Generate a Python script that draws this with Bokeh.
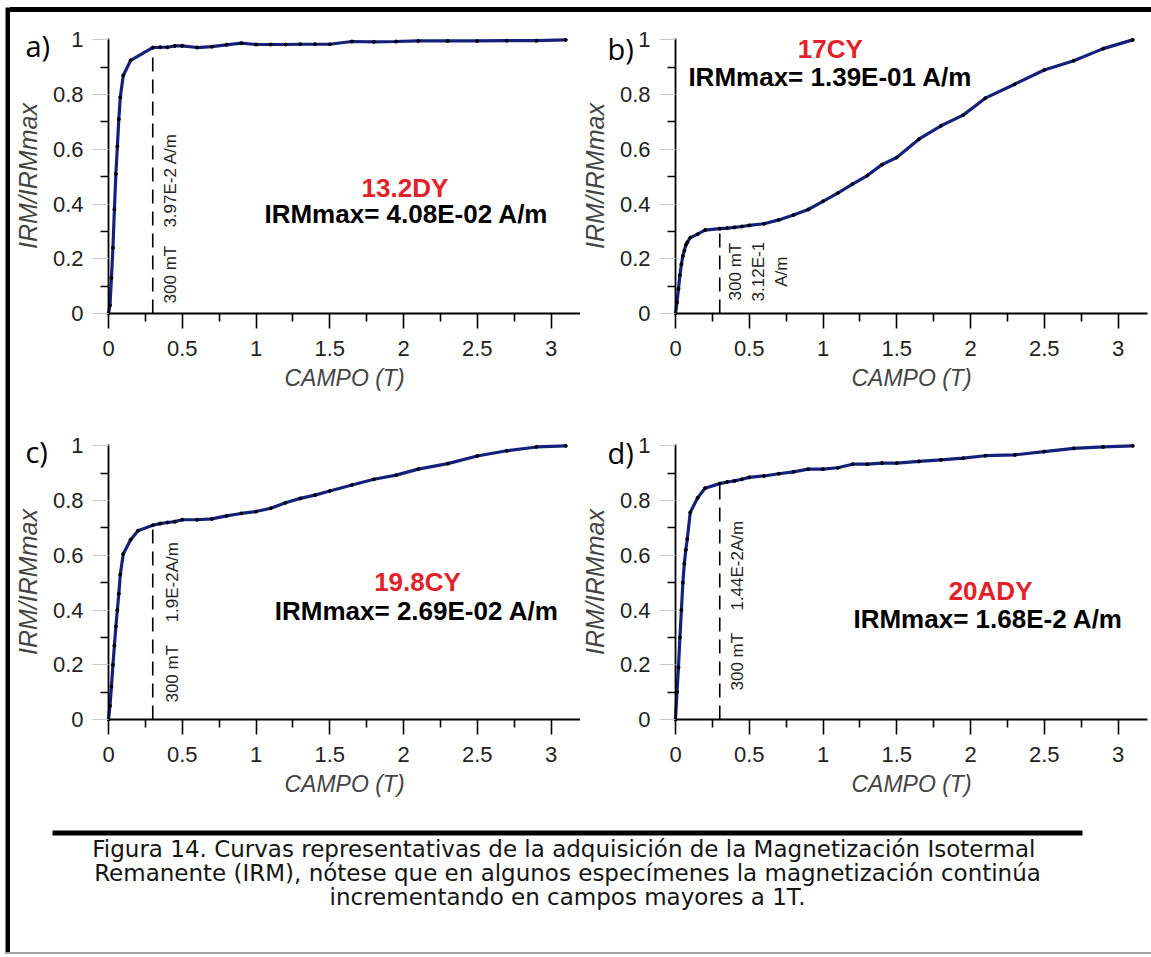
import math
from bokeh.plotting import figure
from bokeh.layouts import row, column
from bokeh.models import Range1d, FixedTicker, NumeralTickFormatter, Label, Spacer, BoxAnnotation
from bokeh.embed import file_html
from bokeh.resources import INLINE

# ---------------- data ----------------
FIELD_A = [0, 0.01, 0.02, 0.03, 0.04, 0.05, 0.06, 0.07, 0.08, 0.1, 0.15, 0.3, 0.35, 0.4, 0.45, 0.5,
           0.6, 0.7, 0.8, 0.9, 1.0, 1.1, 1.2, 1.3, 1.4, 1.5, 1.65, 1.8, 1.95, 2.1, 2.3, 2.5, 2.7, 2.9, 3.1]
IRM_A = [0, 0.03, 0.13, 0.24, 0.38, 0.51, 0.61, 0.71, 0.79, 0.87, 0.925, 0.972, 0.973, 0.973, 0.978, 0.978,
         0.972, 0.975, 0.982, 0.988, 0.983, 0.983, 0.983, 0.984, 0.984, 0.984, 0.994, 0.993, 0.994, 0.996,
         0.996, 0.996, 0.997, 0.997, 1.0]

FIELD_B = [0, 0.01, 0.02, 0.03, 0.04, 0.05, 0.06, 0.07, 0.08, 0.1, 0.15, 0.2, 0.3, 0.35, 0.4, 0.45, 0.5,
           0.6, 0.7, 0.8, 0.9, 1.0, 1.1, 1.2, 1.3, 1.4, 1.5, 1.65, 1.8, 1.95, 2.1, 2.3, 2.5, 2.7, 2.9, 3.1]
IRM_B = [0, 0.04, 0.09, 0.14, 0.18, 0.21, 0.23, 0.25, 0.26, 0.277, 0.29, 0.305, 0.31, 0.312, 0.315, 0.318,
         0.322, 0.328, 0.342, 0.36, 0.38, 0.41, 0.44, 0.473, 0.504, 0.544, 0.57, 0.637, 0.686, 0.725, 0.787,
         0.838, 0.89, 0.924, 0.968, 1.0]

FIELD_C = [0, 0.01, 0.02, 0.03, 0.04, 0.05, 0.06, 0.07, 0.08, 0.1, 0.15, 0.2, 0.3, 0.35, 0.4, 0.45, 0.5,
           0.6, 0.7, 0.8, 0.9, 1.0, 1.1, 1.2, 1.3, 1.4, 1.5, 1.65, 1.8, 1.95, 2.1, 2.3, 2.5, 2.7, 2.9, 3.1]
IRM_C = [0, 0.05, 0.12, 0.20, 0.27, 0.34, 0.40, 0.46, 0.53, 0.605, 0.657, 0.69, 0.71, 0.716, 0.72, 0.723,
         0.73, 0.73, 0.733, 0.744, 0.753, 0.76, 0.772, 0.792, 0.808, 0.82, 0.835, 0.857, 0.878, 0.893, 0.915,
         0.935, 0.963, 0.982, 0.996, 1.0]

FIELD_D = [0, 0.01, 0.02, 0.03, 0.04, 0.05, 0.06, 0.07, 0.08, 0.1, 0.15, 0.2, 0.3, 0.35, 0.4, 0.45, 0.5,
           0.6, 0.7, 0.8, 0.9, 1.0, 1.1, 1.2, 1.3, 1.4, 1.5, 1.65, 1.8, 1.95, 2.1, 2.3, 2.5, 2.7, 2.9, 3.1]
IRM_D = [0, 0.10, 0.19, 0.30, 0.40, 0.50, 0.57, 0.62, 0.66, 0.757, 0.81, 0.845, 0.862, 0.868, 0.872, 0.878,
         0.885, 0.89, 0.898, 0.905, 0.915, 0.915, 0.92, 0.933, 0.933, 0.937, 0.937, 0.943, 0.949, 0.955,
         0.964, 0.967, 0.979, 0.991, 0.996, 1.0]

PANEL_LETTERS = ["a)", "b)", "c)", "d)"]
SAMPLES = ["13.2DY", "17CY", "19.8CY", "20ADY"]
IRM_MAX = ["IRMmax= 4.08E-02 A/m", "IRMmax= 1.39E-01 A/m", "IRMmax= 2.69E-02 A/m", "IRMmax= 1.68E-2 A/m"]
NOTE_FIELD = ["300 mT", "300 mT\n3.12E-1\nA/m", "300 mT", "300 mT"]
NOTE_IRM = ["3.97E-2 A/m", "", "1.9E-2A/m", "1.44E-2A/m"]
MARK_FIELD = 0.3

X_TICKS = [0, 0.5, 1, 1.5, 2, 2.5, 3]
X_TICK_LABELS = ["0", "0.5", "1", "1.5", "2", "2.5", "3"]
X_MINOR = [0.25, 0.75, 1.25, 1.75, 2.25, 2.75]
Y_TICKS = [0, 0.2, 0.4, 0.6, 0.8, 1]
Y_TICK_LABELS = ["0", "0.2", "0.4", "0.6", "0.8", "1"]
Y_MINOR = [0.1, 0.3, 0.5, 0.7, 0.9]

CAPTION_LINES = [
    "Figura 14.  Curvas representativas de la adquisición de la Magnetización Isotermal",
    "Remanente (IRM), nótese que en algunos especímenes la magnetización continúa",
    "incrementando en campos mayores a 1T.",
]

X_LABEL = "CAMPO (T)"
Y_LABEL = "IRM/IRMmax"

# ---------------- styling ----------------
FONT = "Liberation Sans"
CAPTION_FONT = "DejaVu Sans"
CURVE_COLOR = "#15207a"
RED = "#e2222a"
X_AXIS_END = 3.2
Y_AXIS_END = 1.005
PX_PER_X = 147.5
PX_PER_Y = 275 / 1.005


def make_panel(fields, irm, idx, width, height, ox, oy, letter_xy, name_xy, irm_xy, note1_xy, note2_xy):
    # ox, oy: pixel position of the data origin inside this figure (from left / from top)
    x_range = Range1d(-ox / PX_PER_X, (width - ox) / PX_PER_X)
    y_range = Range1d(-(height - oy) / PX_PER_Y, oy / PX_PER_Y)
    p = figure(width=width, height=height, x_range=x_range, y_range=y_range,
               output_backend="svg", toolbar_location=None, min_border=0)
    p.outline_line_color = None
    p.grid.visible = False
    p.background_fill_color = "white"
    p.border_fill_color = "white"

    xa = p.xaxis[0]
    xa.fixed_location = 0
    xa.bounds = (0, X_AXIS_END)
    xa.ticker = FixedTicker(ticks=X_TICKS, minor_ticks=X_MINOR)
    xa.formatter = NumeralTickFormatter(format="0.[0]")
    xa.major_label_overrides = {t: l for t, l in zip(X_TICKS, X_TICK_LABELS)}
    xa.axis_label = X_LABEL
    xa.axis_label_text_font = FONT
    xa.axis_label_text_font_style = "italic"
    xa.axis_label_text_font_size = "23px"
    xa.axis_label_standoff = 6
    xa.major_label_text_font = FONT
    xa.major_label_text_font_size = "22px"
    xa.major_label_text_color = "#222222"
    xa.major_label_standoff = 12
    xa.axis_line_color = "black"
    xa.axis_line_width = 1.8
    xa.major_tick_line_color = "black"
    xa.major_tick_line_width = 1.6
    xa.major_tick_out = 15
    xa.major_tick_in = 0
    xa.minor_tick_line_color = "black"
    xa.minor_tick_line_width = 1.6
    xa.minor_tick_out = 8
    xa.minor_tick_in = 0

    ya = p.yaxis[0]
    ya.fixed_location = 0
    ya.bounds = (0, Y_AXIS_END)
    ya.ticker = FixedTicker(ticks=Y_TICKS, minor_ticks=Y_MINOR)
    ya.formatter = NumeralTickFormatter(format="0.[0]")
    ya.major_label_overrides = {t: l for t, l in zip(Y_TICKS, Y_TICK_LABELS)}
    ya.axis_label = Y_LABEL
    ya.axis_label_text_font = FONT
    ya.axis_label_text_font_style = "italic"
    ya.axis_label_text_font_size = "25px"
    ya.axis_label_standoff = 8
    ya.major_label_text_font = FONT
    ya.major_label_text_font_size = "22px"
    ya.major_label_text_color = "#222222"
    ya.major_label_standoff = 9
    ya.axis_line_color = "black"
    ya.axis_line_width = 1.8
    ya.major_tick_line_color = "#c8c8c8"
    ya.major_tick_line_width = 1.2
    ya.major_tick_out = 16
    ya.major_tick_in = 0
    ya.minor_tick_line_color = "black"
    ya.minor_tick_line_width = 1.6
    ya.minor_tick_out = 8
    ya.minor_tick_in = 0

    # 300 mT marker (dashed) taken from the data at the mark field
    k = fields.index(MARK_FIELD)
    p.segment(x0=[fields[k]], y0=[0], x1=[fields[k]], y1=[irm[k]],
              line_color="black", line_width=1.6, line_dash="14 8")

    p.line(fields, irm, line_color=CURVE_COLOR, line_width=3.2)
    p.scatter(fields, irm, size=3, color="black", marker="circle")

    p.add_layout(Label(x=letter_xy[0], y=letter_xy[1], text=PANEL_LETTERS[idx], text_font="Open Sans",
                       text_font_size="29px", text_color="black", text_align="left", text_baseline="middle"))
    p.add_layout(Label(x=name_xy[0], y=name_xy[1], text=SAMPLES[idx], text_font=FONT, text_font_style="bold",
                       text_font_size="26px", text_color=RED, text_align="center", text_baseline="middle"))
    p.add_layout(Label(x=irm_xy[0], y=irm_xy[1], text=IRM_MAX[idx], text_font=FONT, text_font_style="bold",
                       text_font_size="26px", text_color="black", text_align="center", text_baseline="middle"))
    p.add_layout(Label(x=note1_xy[0], y=note1_xy[1], text=NOTE_FIELD[idx], text_font=FONT,
                       text_font_size="17px", text_color="#222222", text_align=note1_xy[2],
                       text_baseline="middle", angle=math.pi / 2, angle_units="rad"))
    if NOTE_IRM[idx]:
        p.add_layout(Label(x=note2_xy[0], y=note2_xy[1], text=NOTE_IRM[idx], text_font=FONT,
                           text_font_size="17px", text_color="#222222", text_align="left",
                           text_baseline="middle", angle=math.pi / 2, angle_units="rad"))
    return p


fa = make_panel(FIELD_A, IRM_A, 0, 570, 403, 98, 301,
                (-0.563, 0.98), (2.01, 0.46), (2.02, 0.365), (0.42, 0.037, "left"), (0.42, 0.314))
fb = make_panel(FIELD_B, IRM_B, 1, 571, 403, 95, 301,
                (-0.461, 0.969), (1.05, 0.965), (1.05, 0.866), (0.563, 0.153, "center"), None)
fc = make_panel(FIELD_C, IRM_C, 2, 570, 395, 98, 304,
                (-0.563, 0.98), (2.095, 0.504), (2.09, 0.395), (0.434, 0.062, "left"), (0.434, 0.355))
fd = make_panel(FIELD_D, IRM_D, 3, 571, 395, 95, 304,
                (-0.461, 0.976), (2.136, 0.471), (2.12, 0.369), (0.42, 0.106, "left"), (0.42, 0.398))

# ---------------- caption ----------------
CAP_W, CAP_H = 1141, 142
cap = figure(width=CAP_W, height=CAP_H, x_range=Range1d(0, CAP_W), y_range=Range1d(CAP_H, 0),
             output_backend="svg", toolbar_location=None, x_axis_location=None, y_axis_location=None,
             min_border=0)
cap.outline_line_color = None
cap.grid.visible = False
cap.add_layout(BoxAnnotation(left=42, right=1072, top=20, bottom=25, fill_color="black", fill_alpha=1,
                             line_color=None))
for i, line in enumerate(CAPTION_LINES):
    cap.add_layout(Label(x=557, y=38 + 24 * i, text=line, text_font=CAPTION_FONT, text_font_size="23px",
                         text_color="#151515", text_align="center", text_baseline="middle"))


# ---------------- page frame (solid bars) ----------------
def vbar_fig(w, h, color):
    b = figure(width=w, height=h, output_backend="svg", toolbar_location=None, min_border=0,
               x_axis_location=None, y_axis_location=None, x_range=Range1d(0, 1), y_range=Range1d(0, 1))
    b.grid.visible = False
    b.outline_line_color = None
    b.background_fill_color = color
    b.border_fill_color = color
    return b


top_space = Spacer(width=1151, height=7)
left_space = Spacer(width=5, height=945)
left_bar = vbar_fig(5, 945, "black")
top_bar = Spacer(width=1141, height=5, styles={"background-color": "black"})
bottom_space = Spacer(width=5, height=2)
bottom_line = Spacer(width=1146, height=2, styles={"background-color": "#a0a0a0"})

content = column(top_bar, row(fa, fb, spacing=0), row(fc, fd, spacing=0), cap, spacing=0)
layout = column(top_space, row(left_space, left_bar, content, spacing=0),
                row(bottom_space, bottom_line, spacing=0), spacing=0)

open("out.html", "w").write(file_html(layout, INLINE))
